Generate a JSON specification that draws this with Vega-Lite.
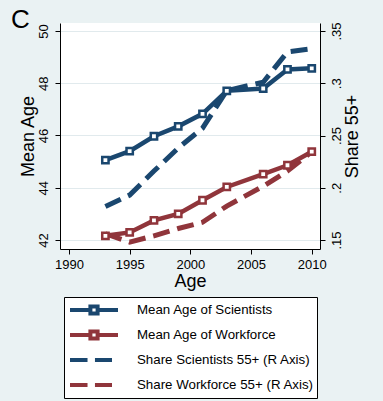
{
  "$schema": "https://vega.github.io/schema/vega-lite/v6.json",
  "autosize": "none",
  "width": 260,
  "height": 226,
  "padding": {"left": 60, "top": 23, "right": 63, "bottom": 152},
  "background": "#EAF2F3",
  "view": {"fill": "white", "stroke": null},
  "title": {"text": "C", "anchor": "start", "frame": "group", "fontSize": 26, "font": "Liberation Sans", "fontWeight": "normal", "color": "black", "dx": -49, "dy": 9, "offset": -2},
  "config": {
    "font": "Liberation Sans",
    "axis": {"labelFont": "Liberation Sans", "titleFont": "Liberation Sans", "labelFontSize": 13, "titleFontSize": 18, "titleFontWeight": "normal", "labelColor": "black", "titleColor": "black", "domainColor": "black", "tickColor": "black", "tickSize": 5, "labelPadding": 4, "titlePadding": 0, "gridColor": "#E1EAED", "gridWidth": 1.2},
    "legend": {
      "orient": "none", "legendX": 4, "legendY": 274, "direction": "vertical",
      "symbolSize": 2304, "symbolStrokeWidth": 4, "clipHeight": 20, "rowPadding": 5, "padding": 3,
      "symbolOffset": 1, "labelOffset": 17, "labelFontSize": 13.3, "labelFont": "Liberation Sans", "labelColor": "black",
      "labelLimit": 300, "fillColor": "white", "strokeColor": "black", "cornerRadius": 0
    }
  },
  "datasets": {
    "ages": [
      {"year": 1993, "series": "Mean Age of Scientists", "value": 45.06},
      {"year": 1995, "series": "Mean Age of Scientists", "value": 45.40},
      {"year": 1997, "series": "Mean Age of Scientists", "value": 45.97},
      {"year": 1999, "series": "Mean Age of Scientists", "value": 46.35},
      {"year": 2001, "series": "Mean Age of Scientists", "value": 46.83},
      {"year": 2003, "series": "Mean Age of Scientists", "value": 47.71},
      {"year": 2006, "series": "Mean Age of Scientists", "value": 47.80},
      {"year": 2008, "series": "Mean Age of Scientists", "value": 48.53},
      {"year": 2010, "series": "Mean Age of Scientists", "value": 48.57},
      {"year": 1993, "series": "Mean Age of Workforce", "value": 42.16},
      {"year": 1995, "series": "Mean Age of Workforce", "value": 42.29},
      {"year": 1997, "series": "Mean Age of Workforce", "value": 42.75},
      {"year": 1999, "series": "Mean Age of Workforce", "value": 43.00},
      {"year": 2001, "series": "Mean Age of Workforce", "value": 43.52},
      {"year": 2003, "series": "Mean Age of Workforce", "value": 44.03},
      {"year": 2006, "series": "Mean Age of Workforce", "value": 44.52},
      {"year": 2008, "series": "Mean Age of Workforce", "value": 44.86},
      {"year": 2010, "series": "Mean Age of Workforce", "value": 45.38}
    ],
    "shares": [
      {"year": 1993, "series": "Share Scientists 55+ (R Axis)", "value": 0.182},
      {"year": 1995, "series": "Share Scientists 55+ (R Axis)", "value": 0.193},
      {"year": 1997, "series": "Share Scientists 55+ (R Axis)", "value": 0.216},
      {"year": 1999, "series": "Share Scientists 55+ (R Axis)", "value": 0.238},
      {"year": 2001, "series": "Share Scientists 55+ (R Axis)", "value": 0.257},
      {"year": 2003, "series": "Share Scientists 55+ (R Axis)", "value": 0.293},
      {"year": 2006, "series": "Share Scientists 55+ (R Axis)", "value": 0.301},
      {"year": 2008, "series": "Share Scientists 55+ (R Axis)", "value": 0.330},
      {"year": 2010, "series": "Share Scientists 55+ (R Axis)", "value": 0.333},
      {"year": 1993, "series": "Share Workforce 55+ (R Axis)", "value": 0.156},
      {"year": 1995, "series": "Share Workforce 55+ (R Axis)", "value": 0.148},
      {"year": 1997, "series": "Share Workforce 55+ (R Axis)", "value": 0.154},
      {"year": 1999, "series": "Share Workforce 55+ (R Axis)", "value": 0.161},
      {"year": 2001, "series": "Share Workforce 55+ (R Axis)", "value": 0.167},
      {"year": 2003, "series": "Share Workforce 55+ (R Axis)", "value": 0.1825},
      {"year": 2006, "series": "Share Workforce 55+ (R Axis)", "value": 0.2015},
      {"year": 2008, "series": "Share Workforce 55+ (R Axis)", "value": 0.216},
      {"year": 2010, "series": "Share Workforce 55+ (R Axis)", "value": 0.2345}
    ]
  },
  "layer": [
    {
      "data": {"name": "shares"},
      "mark": {"type": "line", "strokeWidth": 5, "strokeDash": [17, 8]},
      "encoding": {
        "x": {"field": "year", "type": "quantitative", "scale": {"domain": [1989.26, 2010.68], "nice": false, "zero": false},
              "axis": {"title": "Age", "values": [1990, 1995, 2000, 2005, 2010], "format": "d", "grid": false, "labelAngle": 0, "titlePadding": 1}},
        "y": {"field": "value", "type": "quantitative", "scale": {"domain": [0.1414, 0.3577], "nice": false, "zero": false},
              "axis": {"orient": "right", "title": "Share 55+", "titleAngle": 270, "titleBaseline": "top", "values": [0.15, 0.2, 0.25, 0.3, 0.35], "labelExpr": "replace(format(datum.value, '.2~f'), '0.', '.')", "labelAngle": 270, "labelAlign": "center", "labelBaseline": "top", "grid": false, "labelPadding": 5}},
        "color": {"field": "series", "type": "nominal",
                  "scale": {"domain": ["Mean Age of Scientists", "Mean Age of Workforce", "Share Scientists 55+ (R Axis)", "Share Workforce 55+ (R Axis)"], "range": ["#1A476F", "#90353B", "#1A476F", "#90353B"]},
                  "legend": {"title": null, "labelFontSize": 13.3, "labelFont": "Liberation Sans", "labelLimit": 300,
                    "encode": {
                      "symbols": {"update": {
                        "shape": {"signal": "indexof(datum.value, 'Mean') === 0 ? 'M-1,0H-0.15M0.15,0H1M-0.15,-0.15H0.15V0.15H-0.15Z' : 'M-1,0H-0.27M0.04,0H0.75'"},
                        "fill": {"value": "white"}, "strokeDash": {"value": [1, 0]}, "strokeWidth": {"value": 4}}}}}}
      }
    },
    {
      "data": {"name": "ages"},
      "mark": {"type": "line", "strokeWidth": 4.5, "point": {"shape": "square", "filled": false, "fill": "white", "size": 40, "strokeWidth": 2.5}},
      "encoding": {
        "x": {"field": "year", "type": "quantitative"},
        "y": {"field": "value", "type": "quantitative", "scale": {"domain": [41.655, 50.306], "nice": false, "zero": false},
              "axis": {"orient": "left", "title": "Mean Age", "values": [42, 44, 46, 48, 50], "format": "d", "labelAngle": 270, "labelAlign": "center", "labelBaseline": "bottom", "grid": true, "labelPadding": 5}},
        "color": {"field": "series", "type": "nominal"}
      }
    }
  ],
  "resolve": {"scale": {"y": "independent"}}
}
